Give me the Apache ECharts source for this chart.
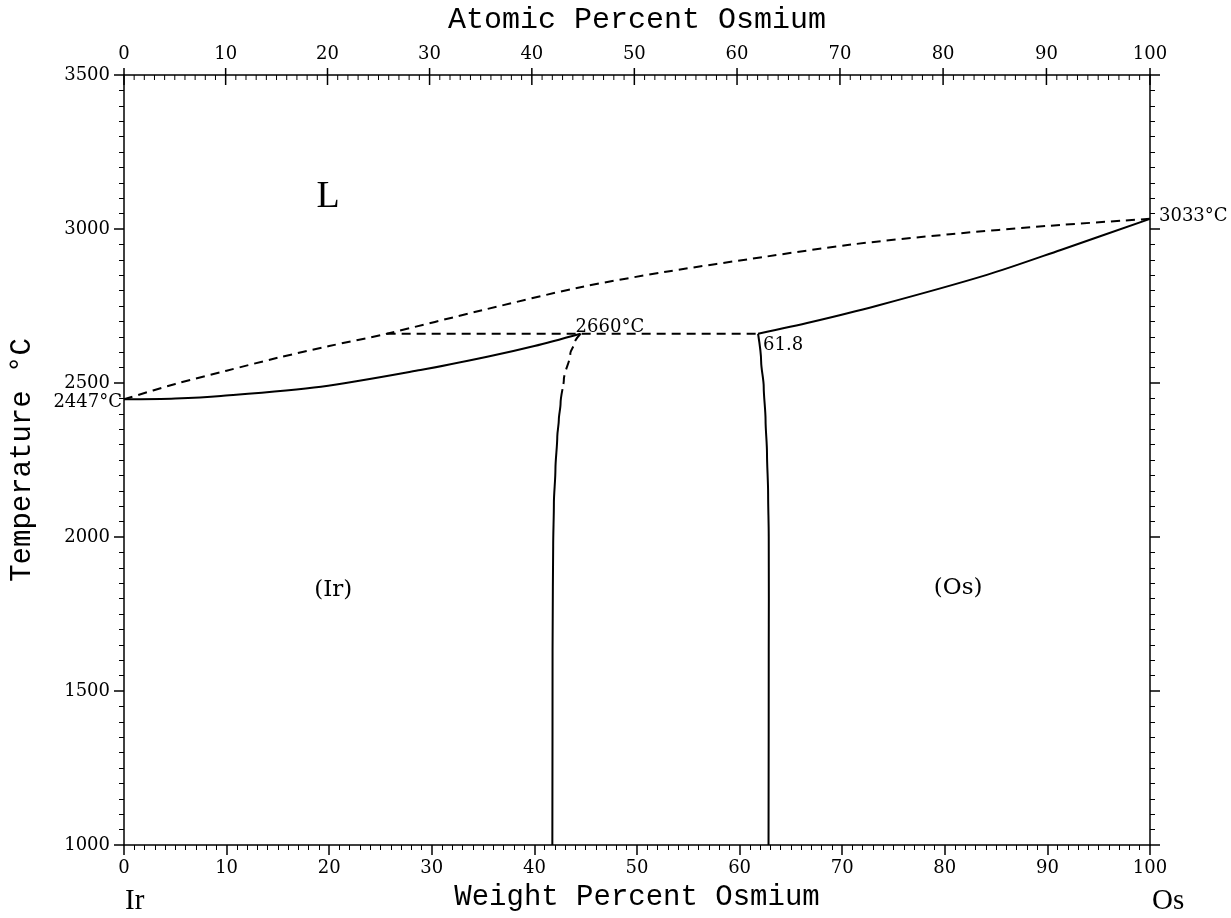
<!DOCTYPE html>
<html>
<head>
<meta charset="utf-8">
<script src="https://cdn.jsdelivr.net/npm/echarts@6/dist/echarts.min.js"></script>
<style>
html,body{margin:0;padding:0;background:#fff;}
#chart{width:1231px;height:918px;}
</style>
</head>
<body>
<div id="chart"></div>
<script>
// ---- data (weight percent Os, temperature °C) ----
const liquidusW = [0, 5, 10, 15, 20, 25.6, 35, 44.5, 53, 62.5, 71, 80.5, 90, 100];
const liquidusT = [2447, 2497, 2540, 2582, 2620, 2660, 2737, 2811, 2862, 2910, 2950, 2983, 3010, 3033];

const solidusIrW = [0, 5, 9.45, 19.2, 28.9, 35.4, 40, 44.5];
const solidusIrT = [2447, 2450, 2458, 2488, 2542, 2585, 2620, 2660];

const solidusOsW = [61.8, 67, 73.3, 84.1, 91.3, 100];
const solidusOsT = [2660, 2698, 2750, 2851, 2932, 3033];

const peritecticW = [25.6, 44.5, 61.8];
const peritecticT = [2660, 2660, 2660];

const solvusIrDashW = [44.5, 43.9, 43.5, 42.87, 42.74];
const solvusIrDashT = [2660, 2630, 2596, 2510, 2480];
const solvusIrW = [42.74, 42.55, 42.38, 42.23, 42.05, 41.9, 41.83, 41.8, 41.77, 41.75];
const solvusIrT = [2480, 2434, 2380, 2326, 2220, 2109, 1970, 1839, 1633, 1000];

const solvusOsW = [61.8, 62.1, 62.35, 62.53, 62.67, 62.78, 62.84, 62.85, 62.84, 62.82];
const solvusOsT = [2660, 2570, 2488, 2380, 2272, 2140, 2001, 1800, 1633, 1000];

const atomicTicks = Array.from({length: 101}, (_, i) => i); // atomic percent Os
const xTicks = [0, 10, 20, 30, 40, 50, 60, 70, 80, 90, 100];
const yTicks = [1000, 1500, 2000, 2500, 3000, 3500];

// annotation texts with anchor (w, T)
const annotations = [
  {text: 'L', w: 19.9, T: 3104},
  {text: '(Ir)', w: 20.4, T: 1828},
  {text: '(Os)', w: 81.3, T: 1834},
  {text: '2660°C', w: 44.5, T: 2660},
  {text: '61.8', w: 61.8, T: 2660},
  {text: '2447°C', w: 0, T: 2447},
  {text: '3033°C', w: 100, T: 3033}
];

const M_IR = 192.217, M_OS = 190.23;
function atToWt(at) {
  return 100 * at * M_OS / (at * M_OS + (100 - at) * M_IR);
}
function zip(a, b) { return a.map((v, i) => [v, b[i]]); }

const serif = 'DejaVu Serif';
const mono = 'Liberation Mono';

const labelStyles = {
  'L': {fontSize: 38, fontFamily: 'Liberation Serif', align: 'center', verticalAlign: 'middle', offset: [0, 0]},
  '(Ir)': {fontSize: 23, fontFamily: serif, align: 'center', verticalAlign: 'middle', offset: [0, 0]},
  '(Os)': {fontSize: 23, fontFamily: serif, align: 'center', verticalAlign: 'middle', offset: [0, 0]},
  '2660°C': {fontSize: 18, fontFamily: serif, align: 'left', verticalAlign: 'bottom', offset: [-5, 3]},
  '61.8': {fontSize: 18, fontFamily: serif, align: 'left', verticalAlign: 'top', offset: [5, 3]},
  '2447°C': {fontSize: 18, fontFamily: serif, align: 'right', verticalAlign: 'middle', offset: [-2, 3]},
  '3033°C': {fontSize: 18, fontFamily: serif, align: 'left', verticalAlign: 'middle', offset: [9, -3]}
};

const lineBase = {type: 'line', showSymbol: false, symbol: 'none', smooth: 0.3, silent: true, animation: false, z: 3};
const solid = {color: '#000', width: 2, type: 'solid'};
const dashed = {color: '#000', width: 2, type: [9, 6]};

const chart = echarts.init(document.getElementById('chart'), null, {renderer: 'canvas'});

const axisCommon = {
  type: 'value', min: 0, max: 100, interval: 10,
  axisLine: {show: true, onZero: false, lineStyle: {color: '#000', width: 1.5}},
  splitLine: {show: false},
};
const plain = v => String(v);

chart.setOption({
  backgroundColor: '#fff',
  animation: false,
  grid: {left: 123, right: 81, top: 75, bottom: 73, containLabel: false},
  xAxis: [
    Object.assign({}, axisCommon, {
      position: 'bottom',
      name: 'Weight Percent Osmium', nameLocation: 'middle', nameGap: 38,
      nameTextStyle: {fontFamily: mono, fontSize: 29, color: '#000'},
      axisTick: {show: true, inside: false, length: 10, lineStyle: {color: '#000', width: 1.5}},
      minorTick: {show: true, splitNumber: 10, length: 5, lineStyle: {color: '#000', width: 1}},
      axisLabel: {fontFamily: serif, fontSize: 18, color: '#000', margin: 14, formatter: plain}
    }),
    Object.assign({}, axisCommon, {
      position: 'top',
      name: 'Atomic Percent Osmium', nameLocation: 'middle', nameGap: 40,
      nameTextStyle: {fontFamily: mono, fontSize: 30, color: '#000'},
      axisTick: {show: false},
      minorTick: {show: false},
      axisLabel: {show: false}
    })
  ],
  yAxis: [
    {
      type: 'value', min: 1000, max: 3500, interval: 500, position: 'left',
      name: 'Temperature °C', nameLocation: 'middle', nameGap: 87, nameRotate: 90,
      nameTextStyle: {fontFamily: mono, fontSize: 29, color: '#000'},
      axisLine: {show: true, onZero: false, lineStyle: {color: '#000', width: 1.5}},
      axisTick: {show: true, inside: false, length: 10, lineStyle: {color: '#000', width: 1.5}},
      minorTick: {show: true, splitNumber: 10, length: 5, lineStyle: {color: '#000', width: 1}},
      axisLabel: {fontFamily: serif, fontSize: 18, color: '#000', margin: 14, formatter: plain},
      splitLine: {show: false}
    },
    {
      type: 'value', min: 1000, max: 3500, interval: 500, position: 'right',
      axisLine: {show: true, onZero: false, lineStyle: {color: '#000', width: 1.5}},
      axisTick: {show: true, inside: false, length: 10, lineStyle: {color: '#000', width: 1.5}},
      minorTick: {show: true, splitNumber: 10, length: 5, lineStyle: {color: '#000', width: 1}},
      axisLabel: {show: false},
      splitLine: {show: false}
    }
  ],
  series: [
    Object.assign({}, lineBase, {name: 'liquidus', data: zip(liquidusW, liquidusT), lineStyle: dashed}),
    Object.assign({}, lineBase, {name: 'solidusIr', data: zip(solidusIrW, solidusIrT), lineStyle: solid}),
    Object.assign({}, lineBase, {name: 'solidusOs', data: zip(solidusOsW, solidusOsT), lineStyle: solid}),
    Object.assign({}, lineBase, {name: 'peritectic', smooth: false, data: zip(peritecticW, peritecticT), lineStyle: dashed}),
    Object.assign({}, lineBase, {name: 'solvusIrDash', smoothMonotone: 'y', data: zip(solvusIrDashW, solvusIrDashT), lineStyle: dashed}),
    Object.assign({}, lineBase, {name: 'solvusIr', smoothMonotone: 'y', data: zip(solvusIrW, solvusIrT), lineStyle: solid}),
    Object.assign({}, lineBase, {name: 'solvusOs', smoothMonotone: 'y', data: zip(solvusOsW, solvusOsT), lineStyle: solid}),
    {
      type: 'scatter', name: 'labels', symbolSize: 0, silent: true, clip: false, z: 5,
      itemStyle: {color: '#000', opacity: 1},
      data: annotations.map(a => ({
        value: [a.w, a.T],
        label: Object.assign({show: true, formatter: a.text, color: '#000', textBorderWidth: 0,
                              textBorderColor: 'transparent', opacity: 1, position: 'inside'}, labelStyles[a.text])
      }))
    },
    {
      // top axis: atomic percent ticks placed through the weight-percent scale
      type: 'custom', name: 'atomicAxis', xAxisIndex: 1, yAxisIndex: 0, silent: true, clip: false, z: 6,
      data: atomicTicks.map(a => [a]),
      renderItem: function (params, api) {
        const at = api.value(0);
        const p = api.coord([atToWt(at), 3500]);
        const major = at % 10 === 0;
        const children = [{
          type: 'line',
          shape: {x1: p[0], y1: major ? p[1] - 7 : p[1], x2: p[0], y2: p[1] + (major ? 10 : 5)},
          style: {stroke: '#000', lineWidth: major ? 1.5 : 1}
        }];
        if (major) {
          children.push({
            type: 'text',
            style: {text: String(at), x: p[0], y: p[1] - 12, align: 'center', verticalAlign: 'bottom',
                    fontFamily: serif, fontSize: 18, fill: '#000'}
          });
        }
        return {type: 'group', children: children};
      }
    }
  ],
  graphic: [
    {type: 'text', left: 125, top: 887, style: {text: 'Ir', fontFamily: 'Liberation Serif', fontSize: 29, fill: '#000'}},
    {type: 'text', left: 1152, top: 887, style: {text: 'Os', fontFamily: 'Liberation Serif', fontSize: 29, fill: '#000'}}
  ]
});
</script>
</body>
</html>
